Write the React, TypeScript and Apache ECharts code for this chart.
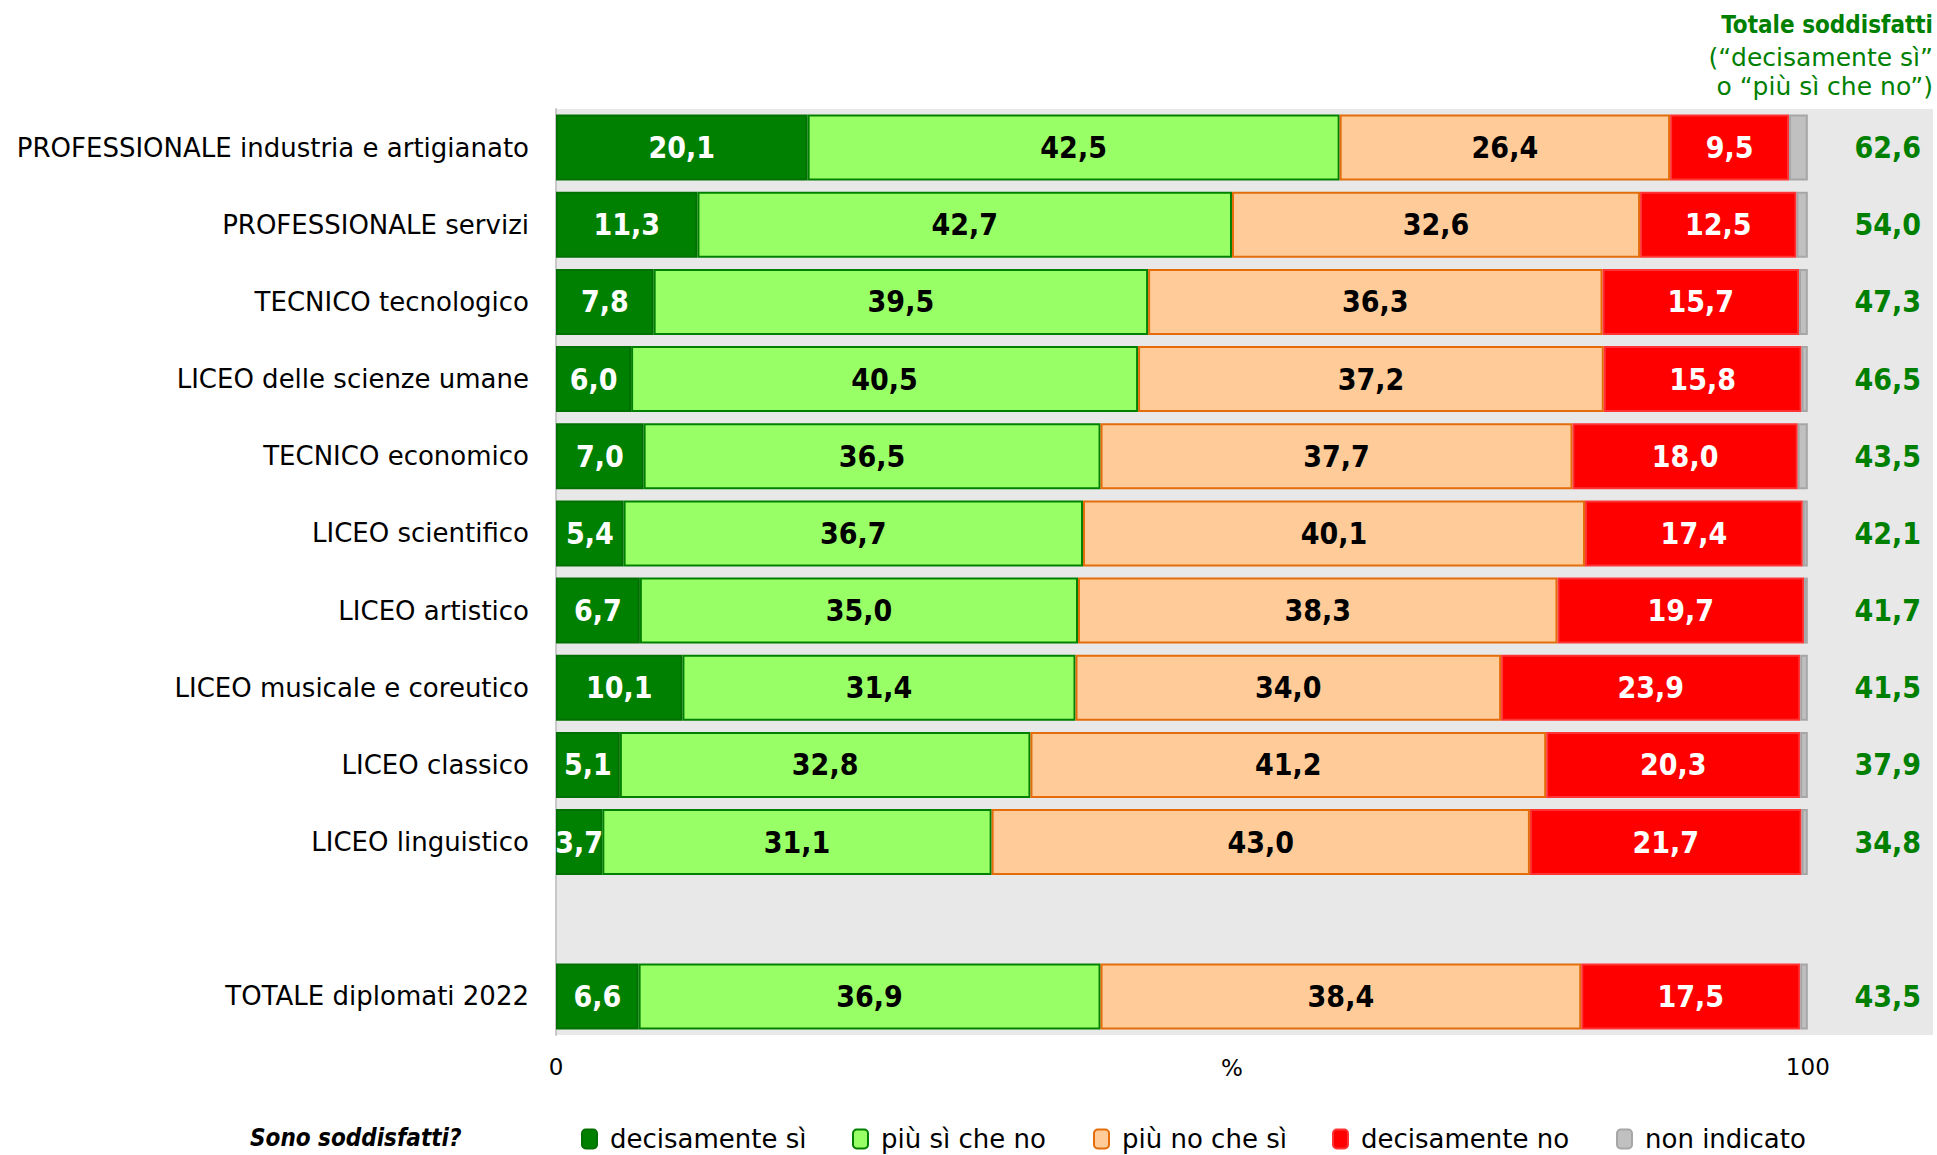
import React, { useEffect, useRef } from "react";
import * as echarts from "echarts";

const categories = [
  "PROFESSIONALE industria e artigianato",
  "PROFESSIONALE servizi",
  "TECNICO tecnologico",
  "LICEO delle scienze umane",
  "TECNICO economico",
  "LICEO scientifico",
  "LICEO artistico",
  "LICEO musicale e coreutico",
  "LICEO classico",
  "LICEO linguistico",
  "",
  "TOTALE diplomati 2022",
];
const decisamenteSi = [20.1, 11.3, 7.8, 6.0, 7.0, 5.4, 6.7, 10.1, 5.1, 3.7, null, 6.6];
const piuSiCheNo = [42.5, 42.7, 39.5, 40.5, 36.5, 36.7, 35.0, 31.4, 32.8, 31.1, null, 36.9];
const piuNoCheSi = [26.4, 32.6, 36.3, 37.2, 37.7, 40.1, 38.3, 34.0, 41.2, 43.0, null, 38.4];
const decisamenteNo = [9.5, 12.5, 15.7, 15.8, 18.0, 17.4, 19.7, 23.9, 20.3, 21.7, null, 17.5];
const nonIndicato = [1.5, 0.9, 0.7, 0.5, 0.8, 0.4, 0.3, 0.6, 0.6, 0.5, null, 0.6];
const totaleSoddisfatti = ["62,6", "54,0", "47,3", "46,5", "43,5", "42,1", "41,7", "41,5", "37,9", "34,8", "", "43,5"];
const xTicks = [0, 100];

const FONT = "'DejaVu Sans', sans-serif";
const FONT_C = "'DejaVu Sans Condensed', 'DejaVu Sans', sans-serif";
const fmt = (v: number) => v.toFixed(1).replace(".", ",");

export default function App() {
  const ref = useRef<HTMLDivElement>(null);
  useEffect(() => {
    const chart = echarts.init(ref.current!, null, { renderer: "svg" });
    const mk = (name: string, data: any[], color: string, border: string, labelColor: string | null) => ({
      name,
      type: "bar",
      stack: "s",
      data,
      barWidth: 66,
      itemStyle: { color, borderColor: border, borderWidth: 2 },
      label: labelColor
        ? {
            show: true,
            position: "inside",
            color: labelColor,
            fontFamily: FONT_C,
            fontWeight: "bold",
            fontSize: 30,
            formatter: (p: any) => (p.value == null ? "" : fmt(p.value)),
          }
        : { show: false },
    });
    const legendItems = [
      { name: "decisamente sì", left: 576 },
      { name: "più sì che no", left: 847 },
      { name: "più no che sì", left: 1088 },
      { name: "decisamente no", left: 1327 },
      { name: "non indicato", left: 1611 },
    ];
    chart.setOption({
      animation: false,
      textStyle: { fontFamily: FONT },
      grid: {
        left: 556,
        right: 4,
        top: 109,
        bottom: 120,
        show: true,
        backgroundColor: "#e8e8e8",
        borderWidth: 0,
      },
      legend: legendItems.map((l) => ({
        data: [l.name],
        left: l.left,
        top: 1121,
        itemWidth: 15,
        itemHeight: 19,
        itemGap: 0,
        textStyle: { fontFamily: FONT, fontSize: 26, color: "#000", padding: [0, 0, 0, 8] },
        selectedMode: false,
      })),
      xAxis: {
        type: "value",
        min: 0,
        max: 110,
        interval: 100,
        splitLine: { show: false },
        axisLine: { show: false },
        axisTick: { show: false },
        axisLabel: {
          showMaxLabel: false,
          margin: 20,
          fontFamily: FONT,
          fontSize: 23,
          color: "#000",
          formatter: (v: number) => (xTicks.includes(v) ? String(v) : ""),
        },
      },
      yAxis: [
        {
          type: "category",
          data: categories,
          inverse: true,
          axisLine: { show: true, lineStyle: { color: "#c8c8c8", width: 2 } },
          axisTick: { show: false },
          axisLabel: { margin: 27, fontFamily: FONT, fontSize: 26, color: "#000" },
        },
        {
          type: "category",
          data: totaleSoddisfatti,
          inverse: true,
          position: "right",
          axisLine: { show: false },
          axisTick: { show: false },
          axisLabel: {
            inside: true,
            margin: 12,
            fontFamily: FONT_C,
            fontSize: 30,
            fontWeight: "bold",
            color: "#008000",
          },
        },
      ],
      series: [
        mk("decisamente sì", decisamenteSi, "#008000", "#007000", "#ffffff"),
        mk("più sì che no", piuSiCheNo, "#99ff66", "#008000", "#000000"),
        mk("più no che sì", piuNoCheSi, "#ffcc99", "#e46c0a", "#000000"),
        mk("decisamente no", decisamenteNo, "#ff0000", "#ff3333", "#ffffff"),
        mk("non indicato", nonIndicato, "#c0c0c0", "#a6a6a6", null),
      ],
      graphic: [
        {
          type: "text",
          x: 1232,
          y: 1068,
          style: { text: "%", font: `23px ${FONT}`, fill: "#000", textAlign: "center", textVerticalAlign: "middle" },
        },
        {
          type: "text",
          x: 250,
          y: 1138,
          style: {
            text: "Sono soddisfatti?",
            font: `italic bold 24px ${FONT_C}`,
            fill: "#000",
            textAlign: "left",
            textVerticalAlign: "middle",
          },
        },
        {
          type: "text",
          x: 1933,
          y: 25,
          style: { text: "Totale soddisfatti", font: `bold 24px ${FONT_C}`, fill: "#008000", textAlign: "right", textVerticalAlign: "middle" },
        },
        {
          type: "text",
          x: 1933,
          y: 57,
          style: { text: "(“decisamente sì”", font: `25px ${FONT}`, fill: "#008000", textAlign: "right", textVerticalAlign: "middle" },
        },
        {
          type: "text",
          x: 1933,
          y: 86,
          style: { text: "o “più sì che no”)", font: `25px ${FONT}`, fill: "#008000", textAlign: "right", textVerticalAlign: "middle" },
        },
      ],
    });
    return () => chart.dispose();
  }, []);
  return (
    <div
      ref={ref}
      style={{ position: "fixed", left: 0, top: 0, width: 1937, height: 1155, background: "#fff" }}
    />
  );
}
